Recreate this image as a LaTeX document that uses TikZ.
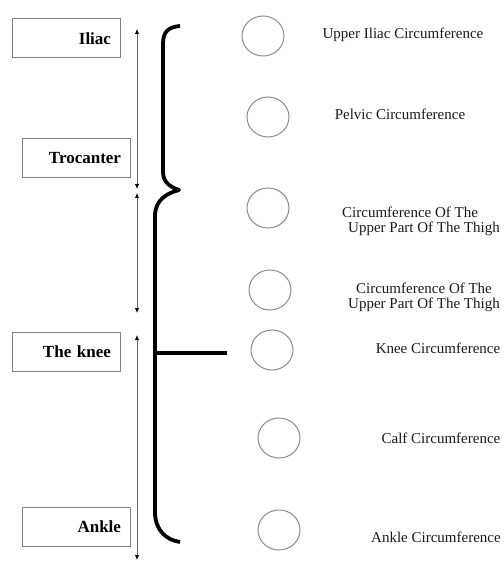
\documentclass[tikz,border=0pt]{standalone}
\usepackage{fontspec}
\setmainfont{Liberation Serif}
\usetikzlibrary{shapes.geometric,arrows.meta}
\begin{document}
\begin{tikzpicture}[x=1pt,y=-1pt,
     part/.style={draw=gray,line width=1pt,rectangle,minimum height=39pt,text width=90pt,inner xsep=9pt,inner ysep=0pt,align=right,font=\fontsize{17}{17}\selectfont\bfseries},
     ring/.style={draw=gray!90,line width=1pt,ellipse,minimum width=42pt,minimum height=40pt,inner sep=0pt},
     girth/.style={font=\fontsize{15}{15}\selectfont,inner sep=0pt,text=black!90},
     span/.style={draw=black!60,line width=0.9pt,{Latex[length=5pt,width=4.5pt,color=black]}-{Latex[length=5pt,width=4.5pt,color=black]}},
     brace/.style={line width=3.8pt,line join=round}
     ]
\useasboundingbox (0,0) rectangle (503,561);

%Position of the measuring line
\def \xarr{137}

%Boxes on the left
\node[part] (Iliac) at (66,38.5) {Iliac};
\node[part] (Troc) at (76,158.5) {Trocanter};
\node[part] (Knee) at (66,351.5) {The knee};
\node[part] (Ankle) at (76,526.5) {Ankle};

%Ends of the measuring arrows
\coordinate (A0) at (\xarr,29);
\coordinate (A1) at (\xarr,189);
\coordinate (B0) at (\xarr,193);
\coordinate (B1) at (\xarr,313);
\coordinate (C0) at (\xarr,335);
\coordinate (C1) at (\xarr,560);
\draw[span] (A0) -- (A1);
\draw[span] (B0) -- (B1);
\draw[span] (C0) -- (C1);

%The brace
\coordinate (top) at (180,26);
\coordinate (tip) at (179,190);
\coordinate (bot) at (180,542);
\draw[brace] (top) .. controls (168,27) and (163,32) .. (163,44) -- (163,172)
   .. controls (163,182) and (170,187) .. (tip)
   .. controls (168,193) and (155,199) .. (155,216) -- (155,512)
   .. controls (155,530) and (166,540) .. (bot);
\coordinate (bar0) at (155,353);
\coordinate (bar1) at (227,353);
\draw[brace] (bar0) -- (bar1);

%Circles
\foreach [count=\i] \x/\y in {263/36,268/117,268/208,270/290,272/350,279/438,279/530}
   \node[ring] (R\i) at (\x,\y) {};

%Labels on the right
\node[girth] (L1) at (403,35) {Upper Iliac Circumference};
\node[girth] (L2) at (400,114) {Pelvic Circumference};
\node[girth,align=left] (L3) at (421,221) {Circumference Of The\\\hspace*{6pt}Upper Part Of The Thigh};
\node[girth,align=center] (L4) at (424,297) {Circumference Of The\\Upper Part Of The Thigh};
\node[girth] (L5) at (438,348) {Knee Circumference};
\node[girth] (L6) at (441,438) {Calf Circumference};
\node[girth] (L7) at (436,537) {Ankle Circumference};
\end{tikzpicture}
\end{document}
